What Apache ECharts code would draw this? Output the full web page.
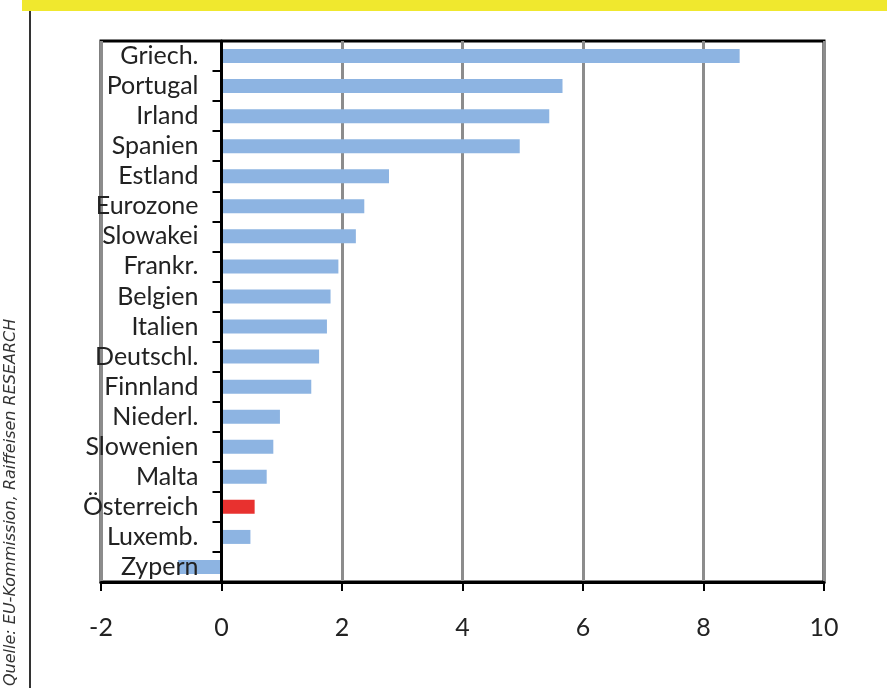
<!DOCTYPE html>
<html>
<head>
<meta charset="utf-8">
<script src="https://cdn.jsdelivr.net/npm/echarts@6/dist/echarts.min.js"></script>
<style>
html,body{margin:0;padding:0;background:#fff;}
#c{width:887px;height:688px;}
</style>
</head>
<body>
<div id="c"></div>
<script>
const categories = ["Griech.","Portugal","Irland","Spanien","Estland","Eurozone","Slowakei","Frankr.","Belgien","Italien","Deutschl.","Finnland","Niederl.","Slowenien","Malta","Österreich","Luxemb.","Zypern"];
const values = [8.6,5.66,5.44,4.95,2.78,2.37,2.23,1.94,1.81,1.75,1.62,1.49,0.97,0.86,0.75,0.55,0.48,-0.72];
const highlight = "Österreich";
const xTicks = [-2,0,2,4,6,8,10];
const sourceText = "Quelle: EU-Kommission, Raiffeisen RESEARCH";

const chart = echarts.init(document.getElementById('c'), null, {renderer:'canvas'});
const FONT = 'Lato, "DejaVu Sans", sans-serif';
const G = {left:101, top:41, right:63, bottom:106};
const gridW = 887 - G.left - G.right;
const xMin = xTicks[0], xMax = xTicks[xTicks.length-1];
const zeroOffset = gridW * (0 - xMin) / (xMax - xMin);
chart.setOption({
  animation:false,
  backgroundColor:'#fff',
  grid:{left:G.left,top:G.top,right:G.right,bottom:G.bottom,show:true,borderColor:'#000',borderWidth:3,containLabel:false,outerBoundsMode:'none'},
  xAxis:{
    type:'value',min:xMin,max:xMax,interval:2,
    axisLine:{show:true,lineStyle:{color:'#000',width:3}},
    axisTick:{show:true,length:9,lineStyle:{color:'#000',width:2}},
    axisLabel:{color:'#222',fontFamily:FONT,fontSize:25,margin:33},
    splitLine:{show:true,lineStyle:{color:'#8c8c8c',width:3}}
  },
  yAxis:{
    type:'category',data:categories,inverse:true,z:5,
    offset:-zeroOffset,
    axisLine:{show:true,onZero:false,lineStyle:{color:'#000',width:3}},
    axisTick:{show:true,length:9,lineStyle:{color:'#000',width:2}},
    axisLabel:{color:'#222',fontFamily:FONT,fontSize:25,margin:23,interval:0,hideOverlap:false},
    splitLine:{show:false}
  },
  series:[{
    type:'bar',barWidth:14,
    data:values.map((v,i)=>({value:v,itemStyle:{color:categories[i]===highlight?'#e8312f':'#8db4e2'}})),
    z:1
  }],
  graphic:[
    {type:'rect',shape:{x:22,y:0,width:865,height:11},style:{fill:'#f0e82e'},z:0},
    {type:'line',shape:{x1:30,y1:11,x2:30,y2:688},style:{stroke:'#333',lineWidth:2}},
    {type:'text',x:19,y:686,rotation:Math.PI/2,style:{text:sourceText,font:'italic 16px "DejaVu Sans", sans-serif',fill:'#333',textAlign:'left',textVerticalAlign:'bottom'}}
  ]
});
</script>
</body>
</html>
